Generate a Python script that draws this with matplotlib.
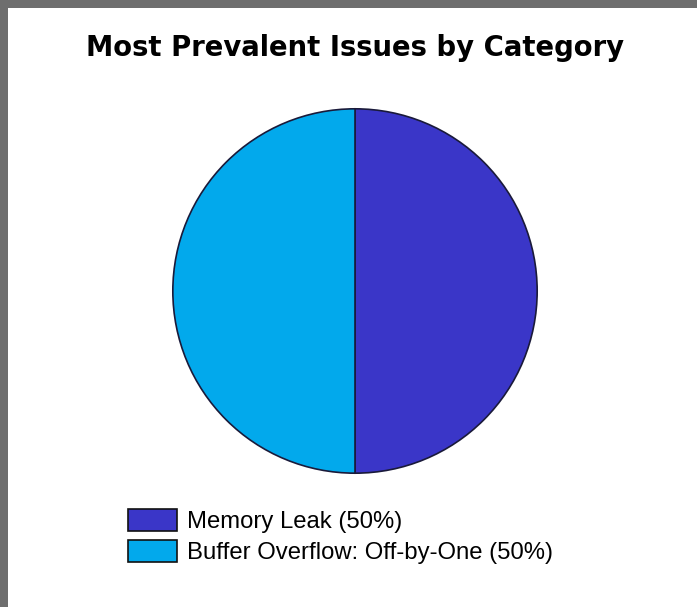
import matplotlib
matplotlib.use("Agg")
import matplotlib.pyplot as plt
from matplotlib.patches import Rectangle

categories = ["Memory Leak", "Buffer Overflow: Off-by-One"]
values = [50, 50]
colors = ["#3a36c8", "#02a9ec"]
title = "Most Prevalent Issues by Category"

W, H = 697, 607
fig = plt.figure(figsize=(W / 100, H / 100), dpi=100)
fig.patch.set_facecolor("white")

# gray frame on top and left
fig.patches.append(Rectangle((0, 1 - 8 / H), 1, 8 / H, transform=fig.transFigure,
                             facecolor="#6e6e6e", edgecolor="none"))
fig.patches.append(Rectangle((0, 0), 8 / W, 1, transform=fig.transFigure,
                             facecolor="#6e6e6e", edgecolor="none"))

cx, cy, r = 355, 291, 184
ax = fig.add_axes([(cx - r) / W, (H - cy - r) / H, 2 * r / W, 2 * r / H])
total = sum(values)
labels = [f"{c} ({v / total * 100:.0f}%)" for c, v in zip(categories, values)]
wedges, _ = ax.pie(values, colors=colors, startangle=90, counterclock=False,
                   radius=1, wedgeprops=dict(edgecolor="#1a1a3a", linewidth=1.2))
ax.set_xlim(-1.01, 1.01)
ax.set_ylim(-1.01, 1.01)
ax.set_aspect("equal")
ax.axis("off")

fig.text(cx / W, 1 - 48 / H, title, ha="center", va="center",
         fontsize=19.8, fontweight="bold", family="DejaVu Sans")

fs = 17.2
leg = fig.legend(wedges, labels, loc="upper left",
                 bbox_to_anchor=(128 / W, 1 - 509 / H),
                 frameon=False, prop=dict(family="Liberation Sans", size=fs),
                 handlelength=2.06, handleheight=1.06, handletextpad=0.4,
                 labelspacing=0.27, borderpad=0.0, borderaxespad=0)
for h in leg.legend_handles:
    h.set_edgecolor("#111111")
    h.set_linewidth(1.2)

fig.savefig("out.png", dpi=100, facecolor="white")
